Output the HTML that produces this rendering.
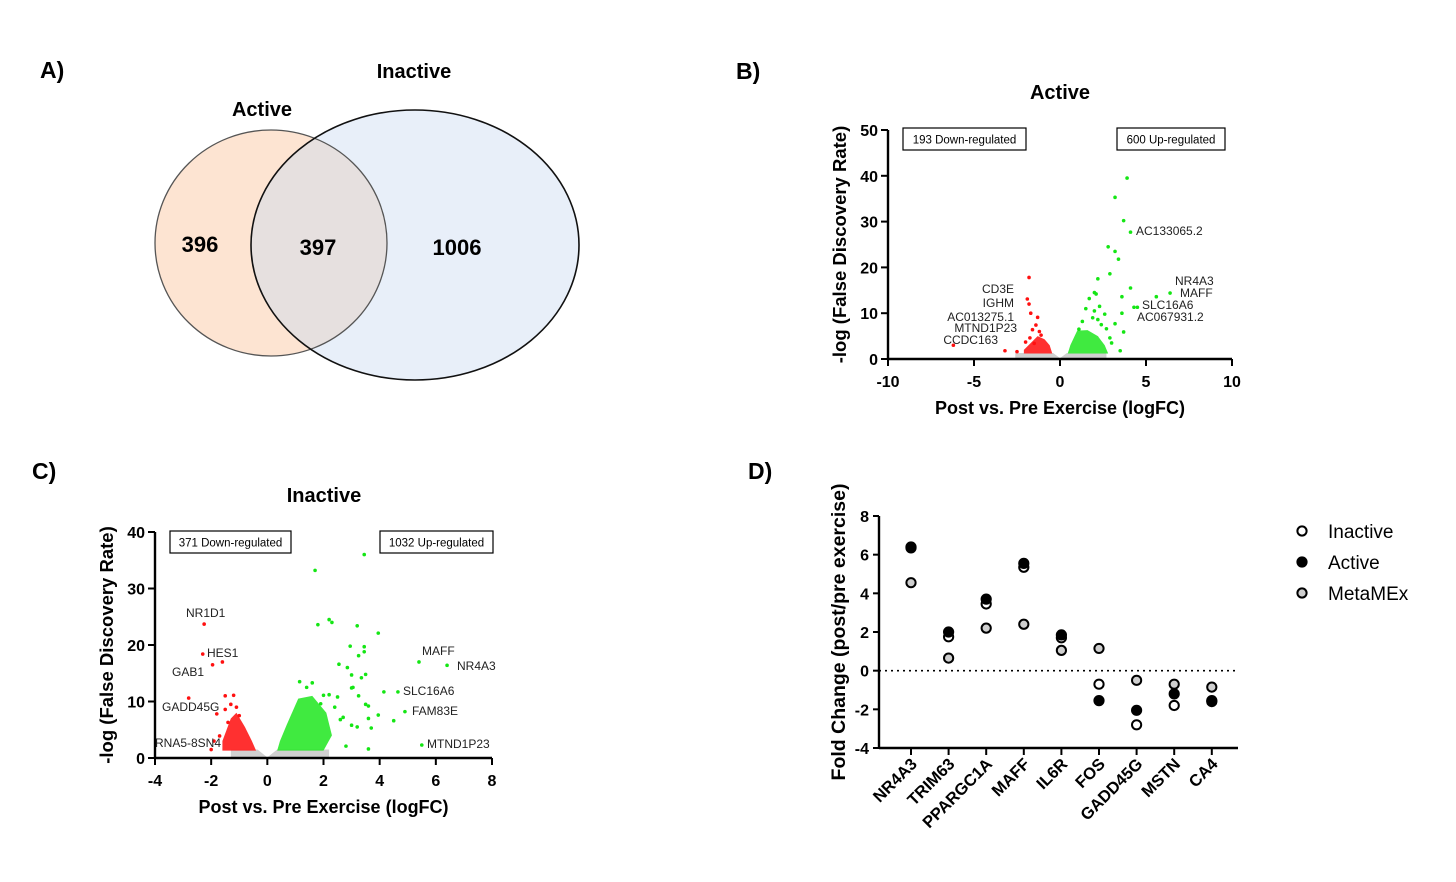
<!DOCTYPE html>
<html><head><meta charset="utf-8">
<style>
html,body{margin:0;padding:0;background:#fff;}
svg{display:block;font-family:"Liberation Sans",Arial,sans-serif;}
.b{font-weight:bold;}
</style></head>
<body>
<svg id="fig" width="1456" height="882" viewBox="0 0 1456 882" xmlns="http://www.w3.org/2000/svg">
<defs>
<clipPath id="clipAct"><ellipse cx="271" cy="243" rx="116" ry="113"/></clipPath>
</defs>
<text x="40" y="78" class="b" font-size="23">A)</text>
<text x="736" y="79" class="b" font-size="23">B)</text>
<text x="32" y="479" class="b" font-size="23">C)</text>
<text x="748" y="479" class="b" font-size="23">D)</text>

<g>
<ellipse cx="271" cy="243" rx="116" ry="113" fill="#fde4d2"/>
<ellipse cx="415" cy="245" rx="164" ry="135" fill="#e8eff9"/>
<ellipse cx="415" cy="245" rx="164" ry="135" fill="#e6e0df" clip-path="url(#clipAct)"/>
<ellipse cx="271" cy="243" rx="116" ry="113" fill="none" stroke="#555" stroke-width="1.3"/>
<ellipse cx="415" cy="245" rx="164" ry="135" fill="none" stroke="#111" stroke-width="1.6"/>
<text x="262" y="116" class="b" font-size="20" text-anchor="middle">Active</text>
<text x="414" y="78" class="b" font-size="20" text-anchor="middle">Inactive</text>
<text x="200" y="252" class="b" font-size="22" text-anchor="middle">396</text>
<text x="318" y="255" class="b" font-size="22" text-anchor="middle">397</text>
<text x="457" y="255" class="b" font-size="22" text-anchor="middle">1006</text>
</g>
<g id="plotB"></g>
<g id="plotC"></g>
<g id="plotD"></g>
</svg>
<script>
// ---------- Panel B data (Active) ----------
const bUpX = [3.9,3.2,3.7,4.1,2.8,3.2,3.4,2.9,2.2,4.1,3.6,5.6,6.4,4.3,4.5,3.6,3.2,3.7,3.0,3.5,2.0,2.1,1.7,2.3,2.6,2.0,1.5,2.7,2.9,1.9,1.3,2.4,1.1,2.2];
const bUpY = [39.5,35.3,30.2,27.7,24.5,23.5,21.8,18.6,17.5,15.5,13.6,13.6,14.4,11.3,11.3,10,7.7,5.9,3.5,1.8,14.5,14.2,13.2,11.5,9.8,10.5,11,6.6,4.6,9,8.2,7.5,6.5,8.6];
const bDnX = [-1.8,-1.9,-1.8,-1.7,-1.3,-1.6,-1.2,-6.2,-3.2,-2.5,-2.0,-1.4,-1.75,-1.1,-1.5];
const bDnY = [17.8,13.1,12,10,9.1,6.4,6,3,1.8,1.6,3.7,7.4,4.6,5.2,3.4];
// ---------- Panel C data (Inactive) ----------
const cUpX = [3.45,1.7,2.2,2.3,1.8,3.2,3.95,2.95,3.45,3.45,3.25,5.4,6.4,2.55,2.85,3,3.5,3.35,4.15,4.65,3,3.05,3.25,3.5,3.6,3.95,4.9,4.5,3.6,3.7,3.2,3.0,5.5,3.6,2.6,2.8,2.2,2.5,1.6,1.15,1.4,2.0,2.4,2.7,1.9];
const cUpY = [36,33.2,24.5,24,23.6,23.4,22.1,19.8,19.7,18.8,18.1,17,16.4,16.6,16,14.7,14.8,14.2,11.7,11.7,12.4,12.5,11,9.5,9.2,7.6,8.2,6.6,7,5.3,5.5,5.8,2.3,1.6,6.8,2.1,11.2,10.8,13.3,13.5,12.5,11.1,9,7.2,9.6];
const cDnX = [-2.25,-2.3,-1.95,-1.6,-2.8,-1.5,-1.2,-1.5,-1.8,-1.3,-2,-1.9,-1.7,-1.1,-1.0,-1.4];
const cDnY = [23.7,18.4,16.5,17,10.6,11,11.1,8.6,7.8,9.5,1.5,3,3.9,9,7.5,6.3];
// ---------- Panel D data ----------
const genes = ["NR4A3","TRIM63","PPARGC1A","MAFF","IL6R","FOS","GADD45G","MSTN","CA4"];
const inactiveFC = [6.35,1.75,3.45,5.35,1.7,-0.7,-2.8,-1.8,-1.6];
const activeFC = [6.4,2.0,3.7,5.55,1.85,-1.55,-2.05,-1.2,-1.55];
const metamexFC = [4.55,0.65,2.2,2.4,1.05,1.15,-0.5,-0.7,-0.85];
const dTicks = [-4,-2,0,2,4,6,8];

const NS="http://www.w3.org/2000/svg";
function mk(parent,tag,attrs,text){const e=document.createElementNS(NS,tag);for(const k in attrs)e.setAttribute(k,attrs[k]);if(text!==undefined)e.textContent=text;parent.appendChild(e);return e;}

function volcano(g,cfg){
  const sx=v=>cfg.x0+(v-cfg.xmin)/(cfg.xmax-cfg.xmin)*(cfg.x1-cfg.x0);
  const sy=v=>cfg.y0-(v-cfg.ymin)/(cfg.ymax-cfg.ymin)*(cfg.y0-cfg.y1);
  const shapes=[
    {c:"#d0d0d0",p:cfg.grey,o:1},{c:"#ff1a1a",p:cfg.redCloud,o:0.9},{c:"#1ee61e",p:cfg.greenCloud,o:0.85}];
  shapes.forEach(s=>{
    const pl=mk(g,"polygon",{points:s.p.map(q=>sx(q[0])+","+sy(q[1])).join(" "),fill:s.c,opacity:s.o});
    
    
  });
  cfg.upX.forEach((x,i)=>{const c=mk(g,"circle",{cx:sx(x),cy:sy(cfg.upY[i]),r:1.8,fill:"#14e614"});
    
    });
  cfg.dnX.forEach((x,i)=>{const c=mk(g,"circle",{cx:sx(x),cy:sy(cfg.dnY[i]),r:1.8,fill:"#ff1010"});
    
    });
  mk(g,"line",{x1:cfg.x0,y1:cfg.y0,x2:cfg.x1,y2:cfg.y0,stroke:"#000","stroke-width":2.4});
  mk(g,"line",{x1:cfg.x0,y1:cfg.y0+1,x2:cfg.x0,y2:cfg.y1,stroke:"#000","stroke-width":2.4});
  cfg.xt.forEach(t=>{mk(g,"line",{x1:sx(t),y1:cfg.y0,x2:sx(t),y2:cfg.y0+7,stroke:"#000","stroke-width":2});
    const l=mk(g,"text",{x:sx(t),y:cfg.y0+28,"text-anchor":"middle","font-size":16,"font-weight":"bold"},String(t));
    
    });
  cfg.yt.forEach(t=>{mk(g,"line",{x1:cfg.x0,y1:sy(t),x2:cfg.x0-7,y2:sy(t),stroke:"#000","stroke-width":2});
    const l=mk(g,"text",{x:cfg.x0-10,y:sy(t)+6,"text-anchor":"end","font-size":16,"font-weight":"bold"},String(t));
    
    });
  const xt=mk(g,"text",{x:(cfg.x0+cfg.x1)/2,y:cfg.y0+55,"text-anchor":"middle","font-size":18,"font-weight":"bold"},"Post vs. Pre Exercise (logFC)");
  
  
  const yx=cfg.x0-42, yy=(cfg.y0+cfg.y1)/2;
  const yt=mk(g,"text",{x:yx,y:yy,"text-anchor":"middle","font-size":18.5,"font-weight":"bold",transform:`rotate(-90 ${yx} ${yy})`},"-log (False Discovery Rate)");
  
  
  const tt=mk(g,"text",{x:cfg.tx,y:cfg.ty,"text-anchor":"middle","font-size":20,"font-weight":"bold"},cfg.title);
  
  
  cfg.boxes.forEach(b=>{
    const r=mk(g,"rect",{x:b[0],y:b[1],width:b[2],height:22,fill:"#fff",stroke:"#000","stroke-width":1.2});
    
    
    const t=mk(g,"text",{x:b[0]+b[2]/2,y:b[1]+15.5,"text-anchor":"middle","font-size":11.5},b[3]);
    
    
  });
  cfg.labels.forEach(l=>{
    const t=mk(g,"text",{x:l[1],y:l[2],"text-anchor":l[3],"font-size":12,fill:"#222"},l[0]);
    
    
  });
}

volcano(document.getElementById("plotB"),{
  x0:888,x1:1232,y0:359,y1:130,xmin:-10,xmax:10,ymin:0,ymax:50,
  xt:[-10,-5,0,5,10],yt:[0,10,20,30,40,50],
  upX:bUpX,upY:bUpY,dnX:bDnX,dnY:bDnY,
  grey:[[-2.6,0],[2.7,0],[2.7,1.3],[0.4,1.3],[0,0.2],[-0.4,1.3],[-2.6,1.3]],
  redCloud:[[-2.1,1.2],[-0.45,1.2],[-0.6,3],[-0.9,4.3],[-1.3,5],[-1.7,3.5],[-2.1,2]],
  greenCloud:[[0.45,1.2],[2.8,1.2],[2.6,3],[2.2,5],[1.6,6.3],[1.0,6.2],[0.6,3]],
  tx:1060,ty:99,title:"Active",
  boxes:[[903,128,123,"193 Down-regulated"],[1117,128,108,"600 Up-regulated"]],
  labels:[["AC133065.2",1136,235,"start"],["NR4A3",1175,285,"start"],["MAFF",1180,297,"start"],["SLC16A6",1142,309,"start"],["AC067931.2",1137,321,"start"],
    ["CD3E",1014,293,"end"],["IGHM",1014,307,"end"],["AC013275.1",1014,321,"end"],["MTND1P23",1017,332,"end"],["CCDC163",998,344,"end"]]
});

volcano(document.getElementById("plotC"),{
  x0:155,x1:492,y0:758,y1:532,xmin:-4,xmax:8,ymin:0,ymax:40,
  xt:[-4,-2,0,2,4,6,8],yt:[0,10,20,30,40],
  upX:cUpX,upY:cUpY,dnX:cDnX,dnY:cDnY,
  grey:[[-1.3,0],[2.2,0],[2.2,1.5],[0.35,1.5],[0,0.1],[-0.35,1.5],[-1.3,1.5]],
  redCloud:[[-1.6,1.3],[-0.4,1.3],[-0.55,3],[-0.8,5.5],[-1.1,8],[-1.3,7],[-1.6,3]],
  greenCloud:[[0.35,1.3],[2.0,1.3],[2.3,4],[2.1,8],[1.6,11],[1.1,10.5],[0.7,6],[0.45,3]],
  tx:324,ty:502,title:"Inactive",
  boxes:[[170,531,121,"371 Down-regulated"],[380,531,113,"1032 Up-regulated"]],
  labels:[["NR1D1",186,617,"start"],["HES1",207,657,"start"],["GAB1",172,676,"start"],["GADD45G",162,711,"start"],["RNA5-8SN4",155,747,"start"],
    ["MAFF",422,655,"start"],["NR4A3",457,670,"start"],["SLC16A6",403,695,"start"],["FAM83E",412,715,"start"],["MTND1P23",427,748,"start"]]
});

// ---------- Panel D ----------
(function(){
  const g=document.getElementById("plotD");
  const x0=879,x1=1238,yTop=516,yBot=748,vmin=-4,vmax=8;
  const sy=v=>yBot-(v-vmin)/(vmax-vmin)*(yBot-yTop);
  const sx=i=>911+i*37.6;
  mk(g,"line",{x1:x0,y1:yBot,x2:x1,y2:yBot,stroke:"#000","stroke-width":2.4});
  mk(g,"line",{x1:x0,y1:yBot+1,x2:x0,y2:yTop,stroke:"#000","stroke-width":2.4});
  const zl=mk(g,"line",{x1:x0,y1:sy(0),x2:x1,y2:sy(0),stroke:"#000","stroke-width":1.6,"stroke-dasharray":"2 4"});
  
  
  dTicks.forEach(t=>{mk(g,"line",{x1:x0,y1:sy(t),x2:x0-6,y2:sy(t),stroke:"#000","stroke-width":2});
    const l=mk(g,"text",{x:x0-10,y:sy(t)+6,"text-anchor":"end","font-size":16,"font-weight":"bold"},String(t));
    
    });
  genes.forEach((gname,i)=>{
    mk(g,"line",{x1:sx(i),y1:yBot,x2:sx(i),y2:yBot+7,stroke:"#000","stroke-width":2});
    const tx=sx(i)+7, ty=yBot+17;
    const l=mk(g,"text",{x:tx,y:ty,"text-anchor":"end","font-size":16.5,"font-weight":"bold",transform:`rotate(-45 ${tx} ${ty})`},gname);
    
    
  });
  const yx=845, yy=632;
  const yt=mk(g,"text",{x:yx,y:yy,"text-anchor":"middle","font-size":19.5,"font-weight":"bold",transform:`rotate(-90 ${yx} ${yy})`},"Fold Change (post/pre exercise)");
  
  
  const series=[[metamexFC,"#cfcfcf","metamex-point"],[inactiveFC,"#ffffff","inactive-point"],[activeFC,"#000000","active-point"]];
  series.forEach(s=>{
    s[0].forEach((v,i)=>{
      const c=mk(g,"circle",{cx:sx(i),cy:sy(v),r:4.6,fill:s[1],stroke:"#000","stroke-width":2});
      
      
    });
  });
  const leg=[["Inactive","#ffffff",531],["Active","#000000",562],["MetaMEx","#cfcfcf",593]];
  leg.forEach(L=>{
    const c=mk(g,"circle",{cx:1302,cy:L[2],r:4.6,fill:L[1],stroke:"#000","stroke-width":2});
    
    
    const t=mk(g,"text",{x:1328,y:L[2]+7,"font-size":19},L[0]);
    
    
  });
})();
</script>
</body></html>
